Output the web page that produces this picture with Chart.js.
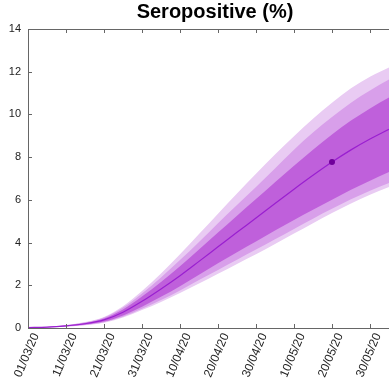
<!DOCTYPE html>
<html>
<head>
<meta charset="utf-8">
<script src="https://cdn.jsdelivr.net/npm/chart.js@4.4.1/dist/chart.umd.min.js"></script>
<style>
  html, body { margin: 0; padding: 0; background: #fff; }
  #wrap { width: 389px; height: 384px; position: relative; }
  #title {
    position: absolute; top: 0; left: 28px; width: 374px; height: 30px;
    line-height: 30px; text-align: center; white-space: nowrap;
    font: bold 20px "Liberation Sans", Arial, sans-serif; color: #000;
  }
</style>
</head>
<body>
<div id="wrap">
  <canvas id="sero"></canvas>
  <div id="title">Seropositive (%)</div>
</div>
<script>
// Days since 01/03/20
const days = [0, 5, 10, 15, 20, 25, 30, 35, 40, 45, 50, 55, 60, 65, 70, 75, 80, 85, 90, 95];

// Median estimate
const median = [0.02, 0.04, 0.1, 0.2, 0.38, 0.74, 1.25, 1.83, 2.45, 3.12, 3.8, 4.48, 5.15, 5.83, 6.5, 7.15, 7.77, 8.34, 8.85, 9.3];

// Inner (darkest) band
const darkTop = [0.024, 0.048, 0.118, 0.236, 0.45, 0.87, 1.47, 2.15, 2.89, 3.67, 4.47, 5.26, 6.04, 6.83, 7.6, 8.35, 9.06, 9.71, 10.28, 10.79];
const darkBottom = [0.016, 0.032, 0.08, 0.16, 0.30, 0.59, 1.0, 1.46, 1.96, 2.49, 3.03, 3.55, 4.05, 4.56, 5.06, 5.54, 6.0, 6.47, 6.9, 7.3];

// Middle band
const midTop = [0.026, 0.052, 0.13, 0.26, 0.49, 0.96, 1.62, 2.37, 3.18, 4.03, 4.91, 5.76, 6.6, 7.47, 8.35, 9.15, 9.88, 10.55, 11.12, 11.63];
const midBottom = [0.014, 0.029, 0.072, 0.144, 0.27, 0.53, 0.9, 1.31, 1.76, 2.25, 2.72, 3.2, 3.67, 4.15, 4.64, 5.12, 5.58, 6.03, 6.43, 6.79];

// Outer (lightest) band
const lightTop = [0.028, 0.055, 0.138, 0.276, 0.52, 1.02, 1.73, 2.55, 3.45, 4.4, 5.35, 6.3, 7.22, 8.12, 8.98, 9.8, 10.55, 11.22, 11.77, 12.2];
const lightBottom = [0.013, 0.027, 0.067, 0.134, 0.25, 0.49, 0.84, 1.22, 1.64, 2.08, 2.54, 3.0, 3.45, 3.93, 4.42, 4.91, 5.38, 5.83, 6.24, 6.6];

// Observed data point
const obsDay = [80];
const obsValue = [7.77];

// X tick labels, one every 10 days
const dateLabels = ["01/03/20", "11/03/20", "21/03/20", "31/03/20", "10/04/20", "20/04/20", "30/04/20", "10/05/20", "20/05/20", "30/05/20"];

const toPoints = (xs, ys) => xs.map((d, i) => ({ x: d, y: ys[i] }));

const bandStyle = (color) => ({
  borderWidth: 0,
  pointRadius: 0,
  backgroundColor: color,
  cubicInterpolationMode: "monotone"
});

// Ticks drawn inward plus the top box line
const inwardTicks = {
  id: "inwardTicks",
  afterDatasetsDraw(chart) {
    const { ctx, chartArea: a, scales: { x, y } } = chart;
    ctx.save();
    ctx.strokeStyle = "#666";
    ctx.lineWidth = 1;
    ctx.beginPath();
    ctx.moveTo(a.left, a.top + 0.5);
    ctx.lineTo(a.right, a.top + 0.5);
    x.ticks.forEach((t) => {
      const px = Math.round(x.getPixelForValue(t.value)) + 0.5;
      ctx.moveTo(px, a.bottom);
      ctx.lineTo(px, a.bottom - 4);
      ctx.moveTo(px, a.top);
      ctx.lineTo(px, a.top + 4);
    });
    y.ticks.forEach((t) => {
      const py = Math.round(y.getPixelForValue(t.value)) + 0.5;
      ctx.moveTo(a.left, py);
      ctx.lineTo(a.left + 4, py);
    });
    ctx.stroke();
    ctx.restore();
  }
};

const ctx = document.getElementById("sero").getContext("2d");
new Chart(ctx, {
  type: "line",
  data: {
    datasets: [
      {
        data: toPoints(obsDay, obsValue),
        showLine: false,
        pointRadius: 3,
        pointBackgroundColor: "#70009a",
        pointBorderWidth: 0
      },
      {
        data: toPoints(days, median),
        borderColor: "#9a1fd0",
        borderWidth: 1.2,
        pointRadius: 0,
        fill: false,
        cubicInterpolationMode: "monotone"
      },
      { data: toPoints(days, darkTop), fill: "+1", ...bandStyle("#bf60db") },
      { data: toPoints(days, darkBottom), fill: false, ...bandStyle("#bf60db") },
      { data: toPoints(days, midTop), fill: "+1", ...bandStyle("#d89fea") },
      { data: toPoints(days, midBottom), fill: false, ...bandStyle("#d89fea") },
      { data: toPoints(days, lightTop), fill: "+1", ...bandStyle("#e9cbf3") },
      { data: toPoints(days, lightBottom), fill: false, ...bandStyle("#e9cbf3") }
    ]
  },
  options: {
    responsive: true,
    maintainAspectRatio: false,
    animation: false,
    layout: { autoPadding: false, padding: { top: 29, right: 0, left: 0, bottom: 0 } },
    plugins: {
      legend: { display: false },
      tooltip: { enabled: false },
      title: { display: false }
    },
    scales: {
      x: {
        type: "linear",
        min: 0,
        max: 95,
        grid: { display: false, drawTicks: false },
        border: { color: "#666", width: 1 },
        ticks: {
          stepSize: 10,
          includeBounds: false,
          minRotation: 67,
          maxRotation: 67,
          padding: 3,
          labelOffset: 8,
          color: "#222",
          font: { family: "'Liberation Sans', Arial, sans-serif", size: 12 },
          callback: (v) => dateLabels[v / 10] ?? ""
        },
        afterFit: (scale) => {
          scale.height = 56;
          scale.paddingRight = 0;
          scale.paddingLeft = 0;
        }
      },
      y: {
        min: 0,
        max: 14,
        grid: { display: false, drawTicks: false },
        border: { color: "#666", width: 1 },
        ticks: {
          stepSize: 2,
          padding: 7,
          color: "#222",
          font: { family: "'Liberation Sans', Arial, sans-serif", size: 11 }
        },
        afterFit: (scale) => { scale.width = 28; }
      }
    }
  },
  plugins: [inwardTicks]
});
</script>
</body>
</html>
